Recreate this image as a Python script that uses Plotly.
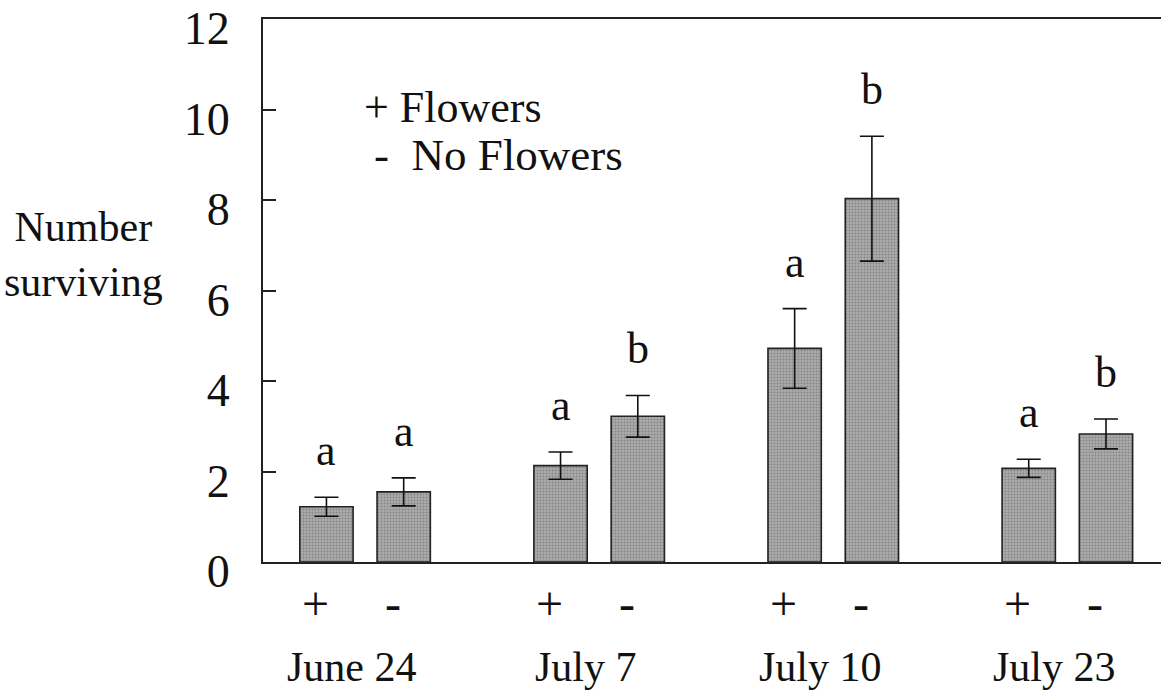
import plotly.graph_objects as go

dates = ["June 24", "July 7", "July 10", "July 23"]
flowers_mean = [1.22, 2.13, 4.72, 2.07]
flowers_err = [0.21, 0.30, 0.88, 0.20]
noflowers_mean = [1.55, 3.22, 8.03, 2.83]
noflowers_err = [0.31, 0.46, 1.38, 0.33]
flowers_letters = ["a", "a", "a", "a"]
noflowers_letters = ["a", "b", "b", "b"]
y_ticks = [0, 2, 4, 6, 8, 10, 12]

FONT = "Liberation Serif, Times New Roman, serif"
INK = "#111111"
W, H = 1161, 696
ML, MR, MT, MB = 263, 0, 19, 134
PW, PH = W - ML - MR, H - MT - MB

bar_style = dict(
    marker=dict(color="#a0a0a0", line=dict(color="#222222", width=1.6),
                pattern=dict(shape=".", fgcolor="#5e5e5e", bgcolor="#acacac",
                             size=3, solidity=0.35)),
)
err_style = dict(type="data", color=INK, thickness=1.6, width=12)

fig = go.Figure()
fig.add_trace(go.Bar(x=dates, y=flowers_mean, name="+ Flowers",
                     error_y=dict(array=flowers_err, **err_style), **bar_style))
fig.add_trace(go.Bar(x=dates, y=noflowers_mean, name="- No Flowers",
                     error_y=dict(array=noflowers_err, **err_style), **bar_style))

bargap = 0.34
offset = (1 - bargap) / 4

ann = []
letter_font = dict(family=FONT, size=44, color=INK)
for i in range(len(dates)):
    for sign, means, errs, letters, sym in (
        (-1, flowers_mean, flowers_err, flowers_letters, "+"),
        (1, noflowers_mean, noflowers_err, noflowers_letters, "-"),
    ):
        xpos = i + sign * offset
        ann.append(dict(x=xpos, y=means[i] + errs[i], xref="x", yref="y",
                        text=letters[i], showarrow=False, yanchor="bottom",
                        yshift=20, font=letter_font))
        ann.append(dict(x=xpos, y=(MT + PH - 603) / PH, xref="x", yref="paper",
                        text=sym, showarrow=False, yanchor="middle", xshift=-11,
                        font=dict(family=FONT, size=48, color=INK)))
    ann.append(dict(x=i, y=(MT + PH - 667) / PH, xref="x", yref="paper",
                    text=dates[i], showarrow=False, yanchor="middle", xshift=-13,
                    font=dict(family=FONT, size=42, color=INK)))

# legend text
ann.append(dict(x=(362 - ML) / PW, y=(MT + PH - 107) / PH, xref="paper", yref="paper",
                text="+ Flowers", showarrow=False, xanchor="left", yanchor="middle",
                font=dict(family=FONT, size=44, color=INK)))
ann.append(dict(x=(372 - ML) / PW, y=(MT + PH - 155) / PH, xref="paper", yref="paper",
                text="-\u00a0\u00a0No Flowers", showarrow=False, xanchor="left", yanchor="middle",
                font=dict(family=FONT, size=45, color=INK)))
# y axis label
ann.append(dict(x=(83 - ML) / PW, y=(MT + PH - 254) / PH, xref="paper", yref="paper",
                text="Number<br>surviving", showarrow=False, xanchor="center", yanchor="middle",
                align="center", font=dict(family=FONT, size=42, color=INK)))

fig.update_layout(
    width=W, height=H,
    margin=dict(l=ML, r=MR, t=MT, b=MB, autoexpand=False),
    paper_bgcolor="white", plot_bgcolor="white",
    barmode="group", bargap=bargap, bargroupgap=0.31,
    showlegend=False,
    annotations=ann,
    font=dict(family=FONT, color=INK),
)
fig.update_xaxes(range=[-0.436, 3.40], showticklabels=False, ticks="",
                 showline=True, linecolor="#222222", linewidth=2, mirror=True,
                 showgrid=False, zeroline=False, automargin=False)
fig.update_yaxes(range=[0, 12], tickvals=y_ticks, ticks="inside", ticklen=13,
                 tickwidth=1.5, tickcolor="#222222",
                 showline=True, linecolor="#222222", linewidth=2,
                 showgrid=False, zeroline=False, ticklabelstandoff=22,
                 ticklabelshift=9, ticklabeloverflow="allow", automargin=False,
                 tickfont=dict(family=FONT, size=46, color=INK))

fig.write_html("out.html")
